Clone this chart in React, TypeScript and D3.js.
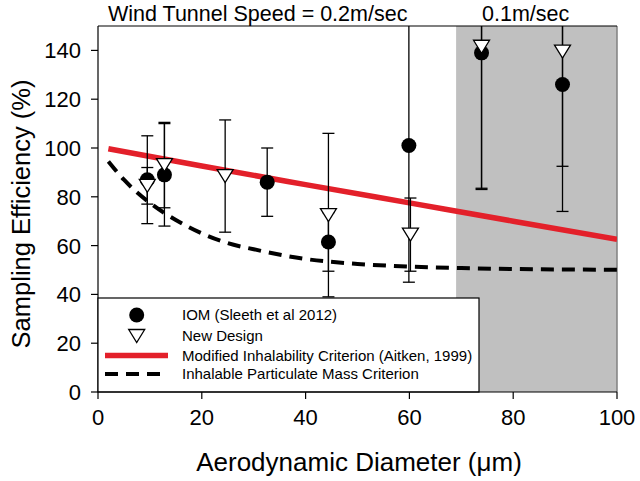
import React from "react";
import * as d3 from "d3";

const iomX = [9.5, 12.8, 32.6, 44.4, 59.9, 73.9, 89.5];
const iomY = [87, 89, 86, 61.5, 101, 139, 126];
const iomErr = [18, 21, 14, 12, 56, 56, 52];

const newX = [9.5, 12.8, 24.5, 44.4, 60.2, 73.9, 89.5];
const newY = [84.5, 93, 88.5, 72.5, 64.5, 141.5, 139.5];
const newErr = [7.5, 17.5, 23, 33.5, 15, 58, 47];

const aitkenD = [2, 20, 40, 60, 80, 100];
const aitkenE = [99.7, 92.6, 85, 77.5, 70, 62.6];

const ipmD = [2, 5, 10, 15, 20, 25, 30, 40, 50, 60, 70, 80, 90, 100];
const ipmE = [94.5, 87, 77.5, 70.5, 65, 61, 58.5, 54.5, 52.5, 51.4, 50.8, 50.4, 50.2, 50.1];

const xTicks = [0, 20, 40, 60, 80, 100];
const yTicks = [0, 20, 40, 60, 80, 100, 120, 140];
const shadeRange = [69, 100];

const legendLabels = [
  "IOM (Sleeth et al 2012)",
  "New Design",
  "Modified Inhalability Criterion (Aitken, 1999)",
  "Inhalable Particulate Mass Criterion",
];

const FONT = "'Liberation Sans', Arial, sans-serif";

export default function App() {
  const W = 640, H = 481;
  const x = d3.scaleLinear().domain([0, 100]).range([98, 617]);
  const y = d3.scaleLinear().domain([0, 150]).range([392, 26]);
  const [x0, x1] = x.range();
  const [yb, yt] = y.range();

  const line = d3
    .line<[number, number]>()
    .x((d) => x(d[0]))
    .y((d) => y(d[1]))
    .curve(d3.curveMonotoneX);

  const aitkenPath = line(aitkenD.map((d, i) => [d, aitkenE[i]]))!;
  const ipmPath = line(ipmD.map((d, i) => [d, ipmE[i]]))!;

  const tri = (cx: number, cy: number) => {
    const w = 8, h = 13;
    return `M${cx - w},${cy - h / 2}L${cx + w},${cy - h / 2}L${cx},${cy + h / 2}Z`;
  };

  const errBar = (xs: number[], ys: number[], es: number[], key: string) =>
    xs.map((xv, i) => {
      const cx = x(xv);
      const top = y(ys[i] + es[i]);
      const bot = y(ys[i] - es[i]);
      return (
        <g key={key + i}>
          <line x1={cx} x2={cx} y1={top} y2={bot} stroke="#000" strokeWidth={1.3} />
          <line x1={cx - 6} x2={cx + 6} y1={top} y2={top} stroke="#000" strokeWidth={1.3} />
          <line x1={cx - 6} x2={cx + 6} y1={bot} y2={bot} stroke="#000" strokeWidth={1.3} />
        </g>
      );
    });

  const lgX = x0, lgY = 298, lgW = 381, lgH = yb - 298;
  const rows = [315, 336, 355.5, 374];

  return (
    <svg
      width={W}
      height={H}
      style={{ position: "absolute", left: 0, top: 0, background: "#fff" }}
      fontFamily={FONT}
    >
      <defs>
        <clipPath id="plot">
          <rect x={x0} y={yt} width={x1 - x0} height={yb - yt} />
        </clipPath>
      </defs>
      <rect x={0} y={0} width={W} height={H} fill="#fff" />
      {/* shaded region */}
      <rect
        x={x(shadeRange[0])}
        y={yt}
        width={x(shadeRange[1]) - x(shadeRange[0])}
        height={yb - yt}
        fill="#c0c0c0"
      />
      <line x1={x1} x2={x1} y1={yt} y2={yb} stroke="#808080" strokeWidth={1.5} />

      {/* curves */}
      <g clipPath="url(#plot)">
        <path d={aitkenPath} fill="none" stroke="#e3202a" strokeWidth={5.5} />
        <path d={ipmPath} fill="none" stroke="#000" strokeWidth={4} strokeDasharray="13 8" />
        {errBar(iomX, iomY, iomErr, "ie")}
        {errBar(newX, newY, newErr, "ne")}
      </g>

      {/* markers */}
      {iomX.map((xv, i) => (
        <circle key={"c" + i} cx={x(xv)} cy={y(iomY[i])} r={7.5} fill="#000" />
      ))}
      {newX.map((xv, i) => (
        <path key={"t" + i} d={tri(x(xv), y(newY[i]))} fill="#fff" stroke="#000" strokeWidth={1.3} />
      ))}

      {/* frame */}
      <line x1={x0} x2={x1} y1={yt} y2={yt} stroke="#000" strokeWidth={1.2} />
      <line x1={x0} x2={x0} y1={yt} y2={yb} stroke="#000" strokeWidth={1.2} />

      {/* legend */}
      <rect x={lgX} y={lgY} width={lgW} height={lgH} fill="#fff" stroke="#000" strokeWidth={1.2} />
      <circle cx={136.7} cy={rows[0]} r={7.5} fill="#000" />
      <path d={tri(136.7, rows[1])} fill="#fff" stroke="#000" strokeWidth={1.3} />
      <line x1={105} x2={168} y1={rows[2]} y2={rows[2]} stroke="#e3202a" strokeWidth={5.5} />
      <line x1={105} x2={168} y1={rows[3]} y2={rows[3]} stroke="#000" strokeWidth={4} strokeDasharray="13 8" />
      {legendLabels.map((t, i) => (
        <text key={t} x={182} y={rows[i]} dy="0.35em" fontSize={15} fill="#000">
          {t}
        </text>
      ))}

      {/* x axis */}
      <line x1={x0} x2={x1} y1={yb} y2={yb} stroke="#000" strokeWidth={1.2} />
      {xTicks.map((t) => (
        <g key={"xt" + t}>
          <line x1={x(t)} x2={x(t)} y1={yb} y2={yb + 7} stroke="#000" strokeWidth={1.2} />
          <text x={x(t)} y={425} textAnchor="middle" fontSize={22} fill="#000">
            {t}
          </text>
        </g>
      ))}
      {/* y axis */}
      {yTicks.map((t) => (
        <g key={"yt" + t}>
          <line x1={x0 - 7} x2={x0} y1={y(t)} y2={y(t)} stroke="#000" strokeWidth={1.2} />
          <text x={81} y={y(t)} dy="0.36em" textAnchor="end" fontSize={22} fill="#000">
            {t}
          </text>
        </g>
      ))}

      {/* titles */}
      <text x={359} y={471} textAnchor="middle" fontSize={26} fill="#000">
        Aerodynamic Diameter (μm)
      </text>
      <text
        transform={`translate(30,${(yb + yt) / 2 + 5}) rotate(-90)`}
        textAnchor="middle"
        fontSize={25.5}
        fill="#000"
      >
        Sampling Efficiency (%)
      </text>
      <text x={108} y={21} fontSize={21.5} fill="#000">
        Wind Tunnel Speed = 0.2m/sec
      </text>
      <text x={482} y={21} fontSize={21.5} fill="#000">
        0.1m/sec
      </text>
    </svg>
  );
}
